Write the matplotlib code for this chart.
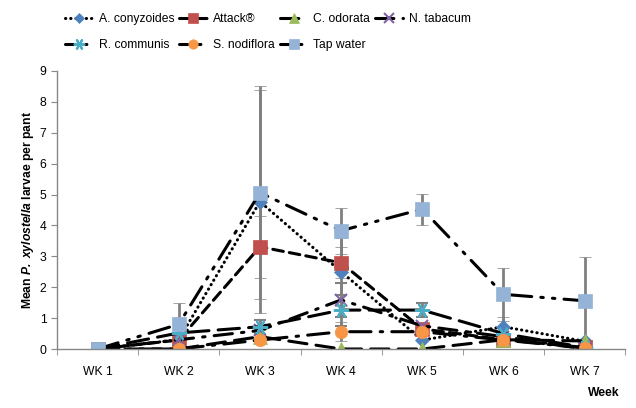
import matplotlib
matplotlib.use("Agg")
import matplotlib.pyplot as plt

plt.rcParams['font.family'] = ['Liberation Sans', 'DejaVu Sans']
plt.rcParams['mathtext.fontset'] = 'custom'
plt.rcParams['mathtext.bfit'] = 'Liberation Sans:italic:bold'
plt.rcParams['mathtext.it'] = 'Liberation Sans:italic'
plt.rcParams['mathtext.rm'] = 'Liberation Sans'

# Data
weeks = ["WK 1", "WK 2", "WK 3", "WK 4", "WK 5", "WK 6", "WK 7"]

a_conyzoides = [0, 0.3, 4.77, 2.5, 0.29, 0.72, 0.25]
attack = [0, 0.29, 3.31, 2.79, 0.65, 0.3, 0.05]
c_odorata = [0, 0, 0.4, 0, 0, 0.3, 0.26]
n_tabacum = [0, 0.3, 0.6, 1.59, 0.75, 0.4, 0]
r_communis = [0, 0.52, 0.72, 1.26, 1.26, 0.5, 0.05]
s_nodiflora = [0, 0, 0.29, 0.56, 0.56, 0.29, 0.03]
tap_water = [0, 0.8, 5.06, 3.83, 4.53, 1.77, 1.56]

# standard errors
a_conyzoides_err = [0, 0, 3.62, 1.1, 0, 0.3, 0]
attack_err = [0, 0, 1.0, 0.5, 0, 0, 0]
c_odorata_err = [0, 0, 0, 0, 0, 0, 0]
n_tabacum_err = [0, 0, 0, 0.55, 0, 0, 0]
r_communis_err = [0, 0, 0.22, 0.5, 0.23, 0, 0]
s_nodiflora_err = [0, 0, 0, 0.3, 0, 0, 0]
tap_water_err = [0, 0.7, 3.45, 0.74, 0.5, 0.85, 1.43]

names = ["A. conyzoides", "Attack\u00ae", "C. odorata", "N. tabacum",
         "R. communis", "S. nodiflora", "Tap water"]
values = [a_conyzoides, attack, c_odorata, n_tabacum, r_communis, s_nodiflora, tap_water]
errors = [a_conyzoides_err, attack_err, c_odorata_err, n_tabacum_err,
          r_communis_err, s_nodiflora_err, tap_water_err]

styles = [
    dict(marker='D', color='#4F81BD', ms=7, ls=(0, (0.1, 1.6))),
    dict(marker='s', color='#C0504D', ms=9.5, ls=(0, (3.5, 2))),
    dict(marker='^', color='#9BBB59', ms=9.5, ls=(0, (6, 3))),
    dict(marker='x', color='#8064A2', ms=9, ls=(0, (6, 3, 0.8, 3))),
    dict(marker=(6, 2, 90), color='#4BACC6', ms=11, ls=(0, (7, 3))),
    dict(marker='o', color='#F79646', ms=9, ls=(0, (7, 3, 0.8, 3))),
    dict(marker='s', color='#95B3D7', ms=10, ls=(0, (7, 3, 0.8, 3, 0.8, 3))),
]

fs = 8.7

fig = plt.figure(figsize=(6.36, 4.08), dpi=100)
ax = fig.add_axes([0.0896, 0.1446, 0.8934, 0.6814])

x = list(range(len(weeks)))
handles = []
for name, vals, err, st in zip(names, values, errors, styles):
    mec = st['color']
    mew = 1.5 if st['marker'] in ('x',) or isinstance(st['marker'], tuple) else 0.5
    line, caps, bars = ax.errorbar(
        x, vals, yerr=err, color='black', lw=2.2, ls=st['ls'],
        marker=st['marker'], ms=st['ms'], mfc=st['color'], mec=mec, mew=mew,
        ecolor='#808080', elinewidth=2, capsize=4, capthick=1.2)
    line.set_dash_capstyle('round')
    for c in caps:
        c.set_color('black')
    for b in bars:
        b.set_zorder(1)
    handles.append(line)

ax.set_xlim(-0.5, 6.5)
ax.set_ylim(0, 9)
ax.set_yticks(range(0, 10))
ax.set_xticks(x)
ax.set_xticklabels(weeks)
ax.set_xticks([i + 0.5 for i in range(-1, 7)], minor=True)
ax.tick_params(axis='x', which='major', length=0, pad=12, labelsize=fs)
ax.tick_params(axis='x', which='minor', length=4, color='#888888', direction='out')
ax.tick_params(axis='y', length=4, color='#888888', labelsize=fs)
for s in ('top', 'right'):
    ax.spines[s].set_visible(False)
for s in ('left', 'bottom'):
    ax.spines[s].set_color('#888888')
    ax.spines[s].set_linewidth(1)

ax.set_ylabel(r"Mean $\mathbfit{P.\ xylostella}$ larvae per pant",
              fontweight='bold', fontsize=fs, labelpad=3)
fig.text(0.975, 0.03, "Week", fontweight='bold', fontsize=fs, ha='right')

order = [0, 4, 1, 5, 2, 6, 3]
fig.legend([handles[i] for i in order], [names[i] for i in order],
           ncol=4, loc='upper left', bbox_to_anchor=(0.085, 0.995),
           frameon=False, fontsize=fs, handlelength=2.3, handletextpad=0.5,
           columnspacing=0.4, labelspacing=1.15, numpoints=1, markerscale=0.75)

fig.savefig("out.png", dpi=100)
